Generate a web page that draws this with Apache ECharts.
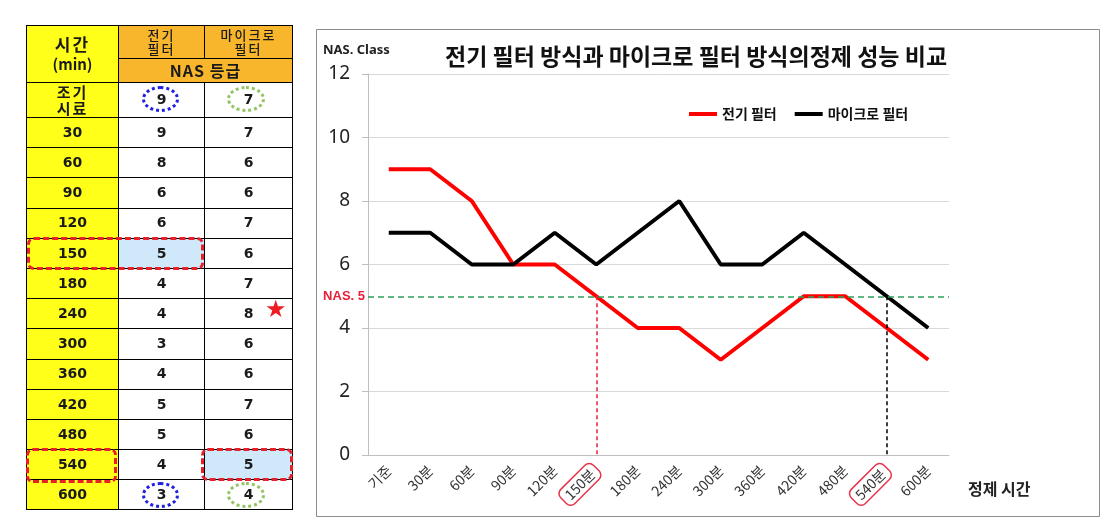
<!DOCTYPE html>
<html>
<head>
<meta charset="utf-8">
<script src="https://cdn.jsdelivr.net/npm/echarts@6/dist/echarts.min.js"></script>
<style>
  html, body { margin: 0; padding: 0; background: #fff; }
  #chart { position: absolute; left: 0; top: 0; width: 1118px; height: 527px; }
  #tbl { position: absolute; left: 26px; top: 25px; width: 266px; border-collapse: collapse; table-layout: fixed;
         font-family: "DejaVu Sans", "Noto Sans CJK KR", sans-serif; font-weight: bold; color: #1a1a1a; text-align: center; }
  #tbl td { border: 1px solid #000; padding: 0; font-size: 14px; line-height: 1.1; }
  #tbl td.k { font-family: "Noto Sans CJK KR", sans-serif; font-size: 15px; letter-spacing: 2px; }
  #tbl td.y { background: #ffff1a; }
  #tbl td.o { background: #f8b62d; }
  #tbl td.s { font-size: 13px; font-weight: 500; line-height: 1.05; }
  #tbl td.hi { background: #cfe8fa; }
  .mark { position: absolute; box-sizing: border-box; }
</style>
</head>
<body>
<div id="chart"></div>
<table id="tbl"></table>
<script>
// 정제 시간 (x축)
const categories = ['기준', '30분', '60분', '90분', '120분', '150분', '180분', '240분', '300분', '360분', '420분', '480분', '540분', '600분']
// 표의 시간 (min)
const tableTimes = ['조기<br>시료', '30', '60', '90', '120', '150', '180', '240', '300', '360', '420', '480', '540', '600']
// NAS 등급
const electricNas = [9, 9, 8, 6, 6, 5, 4, 4, 3, 4, 5, 5, 4, 3]
const microNas = [7, 7, 6, 6, 7, 6, 7, 8, 6, 6, 7, 6, 5, 4]
const seriesNames = ['전기 필터', '마이크로 필터']
const nasLimit = 5
const redCross = '150분'
const blackCross = '540분'
const chartTitle = '전기 필터 방식과 마이크로 필터 방식의정제 성능 비교'

// ---- 왼쪽 표 ----
const rowTop = i => i === 0 ? 82 : 117 + (i - 1) * 30.2
let html = '<colgroup><col style="width:92px"><col style="width:86px"><col style="width:88px"></colgroup>' +
  '<tr style="height:33px"><td rowspan="2" class="y k" style="font-size:17px">시간<br><span style="font-size:15px;letter-spacing:0">(min)</span></td>' +
  '<td class="o s k">전기<br>필터</td><td class="o s k">마이크로<br>필터</td></tr>' +
  '<tr style="height:24px"><td colspan="2" class="o k" style="font-size:16px;letter-spacing:1px">NAS 등급</td></tr>'
tableTimes.forEach((t, i) => {
  const h = i === 0 ? 35 : 30.2
  const c1 = tableTimes[i] === '150' ? ' hi' : ''
  const c2 = tableTimes[i] === '540' ? ' hi' : ''
  html += '<tr style="height:' + h + 'px"><td class="y' + (i === 0 ? ' k' : '') + '">' + t + '</td>' +
    '<td class="' + c1 + '">' + electricNas[i] + '</td><td class="' + c2 + '">' + microNas[i] + '</td></tr>'
})
document.getElementById('tbl').innerHTML = html

function addMark(style, text) {
  const d = document.createElement('div')
  d.className = 'mark'
  d.setAttribute('style', style)
  if (text) d.textContent = text
  document.body.appendChild(d)
}
const last = tableTimes.length - 1
addMark('left:142px;top:' + (rowTop(0) + 4) + 'px;width:37px;height:26px;border:3px dotted #2020e0;border-radius:50%')
addMark('left:227px;top:' + (rowTop(0) + 4) + 'px;width:38px;height:26px;border:3px dotted #93c463;border-radius:50%')
addMark('left:142px;top:' + (rowTop(last) + 3) + 'px;width:37px;height:26px;border:3px dotted #2020e0;border-radius:50%')
addMark('left:227px;top:' + (rowTop(last) + 3) + 'px;width:38px;height:26px;border:3px dotted #93c463;border-radius:50%')
addMark('left:27px;top:' + (rowTop(5) - 1) + 'px;width:177px;height:33px;border:3px dashed #e8202a;border-radius:7px')
addMark('left:26px;top:' + (rowTop(12) - 1) + 'px;width:91px;height:35px;border:3px dashed #e8202a;border-radius:7px')
addMark('left:201px;top:' + (rowTop(12) - 1) + 'px;width:92px;height:33px;border:3px dashed #e8202a;border-radius:7px')
addMark('left:265px;top:' + (rowTop(7) - 2) + 'px;color:#ee1c24;font-size:24px;line-height:26px;font-family:DejaVu Sans', '★')

// ---- 오른쪽 그래프 ----
const chart = echarts.init(document.getElementById('chart'))
const boxed = [redCross, blackCross]
chart.setOption({
  animation: false,
  title: {
    text: chartTitle, left: 440, top: 40,
    textStyle: { fontFamily: 'Noto Sans CJK KR', fontWeight: 'bold', fontSize: 23, color: '#111' }
  },
  legend: {
    data: seriesNames, left: 684, top: 102, icon: 'rect', itemWidth: 28, itemHeight: 4, itemGap: 18,
    textStyle: { fontFamily: 'Noto Sans CJK KR', fontWeight: 'bold', fontSize: 14, color: '#111' }
  },
  grid: { left: 368, top: 74, width: 581, height: 381 },
  xAxis: {
    type: 'category', data: categories, boundaryGap: true,
    axisLine: { lineStyle: { color: '#bfbfbf' } },
    axisTick: { length: 6, lineStyle: { color: '#bfbfbf' } },
    axisLabel: {
      rotate: 45, fontSize: 14, color: '#333', margin: 13, fontFamily: 'Noto Sans CJK KR',
      formatter: v => boxed.includes(v) ? '{box|' + v + '}' : v,
      rich: { box: { borderColor: '#e8334a', borderWidth: 1.5, borderRadius: 6, padding: [3, 5], fontSize: 14, color: '#333' } }
    }
  },
  yAxis: {
    type: 'value', min: 0, max: 12, interval: 2,
    axisLine: { show: true, lineStyle: { color: '#bfbfbf' } },
    axisTick: { show: true, length: 6, lineStyle: { color: '#bfbfbf' } },
    splitLine: { lineStyle: { color: '#d9d9d9' } },
    axisLabel: { fontSize: 19, color: '#222', margin: 18, fontFamily: 'Noto Sans' }
  },
  graphic: [
    { type: 'rect', shape: { x: 316.5, y: 29.5, width: 783, height: 487 }, style: { fill: 'none', stroke: '#8c8c8c', lineWidth: 1 } },
    { type: 'text', left: 323, top: 44, style: { text: 'NAS. Class', font: 'bold 13px "Noto Sans"', fill: '#222' } },
    { type: 'text', left: 968, top: 481, style: { text: '정제 시간', font: 'bold 16px "Noto Sans CJK KR"', fill: '#222' } }
  ],
  series: [
    {
      name: seriesNames[0], type: 'line', data: electricNas, symbol: 'none', z: 3,
      itemStyle: { color: '#ff0000' }, lineStyle: { color: '#ff0000', width: 4 },
      markLine: {
        silent: true, symbol: ['none', 'none'], animation: false,
        lineStyle: { color: '#e8203a', type: [4, 3], width: 1.5 },
        label: { show: false },
        data: [
          {
            yAxis: nasLimit, lineStyle: { color: '#2ca05a', type: [6, 4], width: 1.5 },
            label: { show: true, position: 'start', distance: 3, formatter: 'NAS. ' + nasLimit, color: '#e8203a', fontWeight: 'bold', fontSize: 13 }
          },
          [{ coord: [redCross, nasLimit] }, { coord: [redCross, 0] }]
        ]
      }
    },
    {
      name: seriesNames[1], type: 'line', data: microNas, symbol: 'none', z: 3,
      itemStyle: { color: '#000' }, lineStyle: { color: '#000', width: 4 },
      markLine: {
        silent: true, symbol: ['none', 'none'], animation: false,
        lineStyle: { color: '#000', type: [4, 3], width: 1.5 },
        label: { show: false },
        data: [[{ coord: [blackCross, nasLimit] }, { coord: [blackCross, 0] }]]
      }
    }
  ]
})
</script>
</body>
</html>
